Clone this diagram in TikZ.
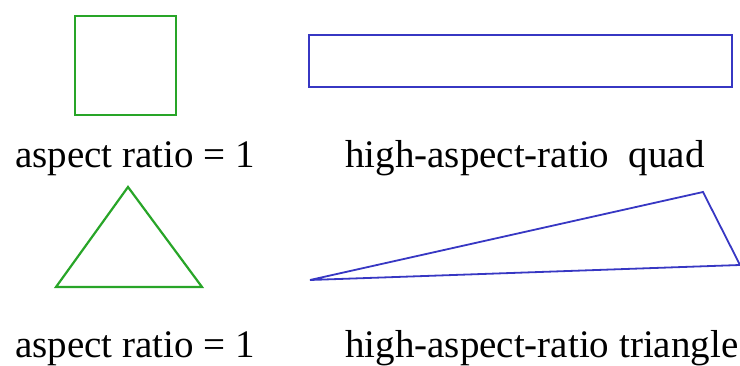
\documentclass[tikz,border=0pt]{standalone}
\usepackage{fontspec}
\setmainfont{Liberation Serif}
\usepackage{tikz}
\usetikzlibrary{positioning}
\definecolor{unitgreen}{RGB}{40,165,40}
\definecolor{skewblue}{RGB}{55,55,195}
\tikzset{
  goodshape/.style={draw=unitgreen,line width=2.2pt,line join=miter},
  badshape/.style={draw=skewblue,line width=1.8pt,line join=miter},
  caption/.style={anchor=base west,inner sep=0pt,font=\fontsize{39}{42}\selectfont},
}
\begin{document}
\begin{tikzpicture}[x=1pt,y=1pt]
  \useasboundingbox (0,0) rectangle (740,365);
  % shapes
  \draw[goodshape] (75,250) rectangle (176,349);
  \draw[badshape] (309,278) rectangle (732,330);
  \draw[goodshape] (56,78) -- (128,178) -- (202,78) -- cycle;
  \draw[badshape] (310,85) -- (703,173) -- (740,100) -- cycle;
  % captions
  \node[caption] (sqlbl) at (15,197) {aspect\ ratio = 1};
  \node[caption] (quadlbl) at (345,197) {high-aspect-ratio\ \ quad};
  \node[caption] (trilbl) at (15,8) {aspect\ ratio = 1};
  \node[caption] (slivlbl) at (345,8) {high-aspect-ratio triangle};
\end{tikzpicture}
\end{document}
